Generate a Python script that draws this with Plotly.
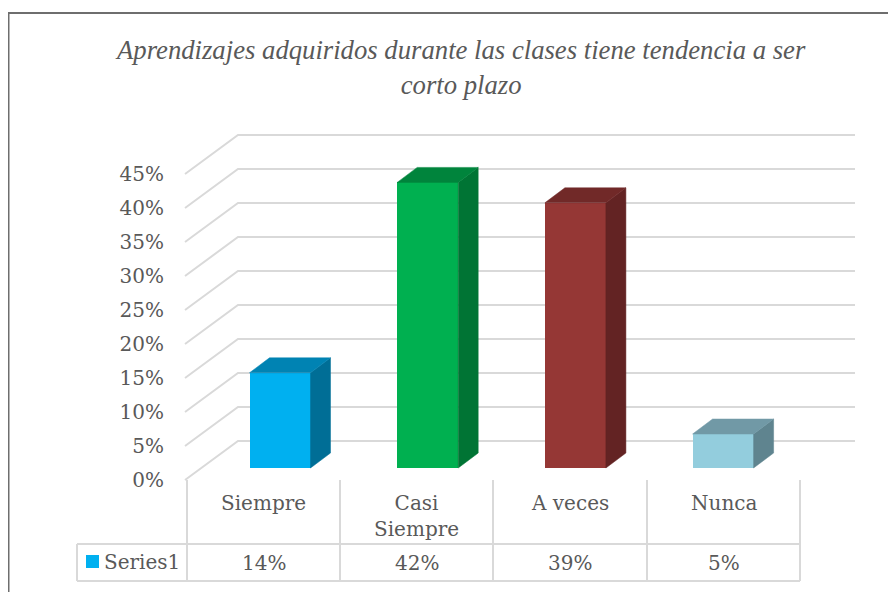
import plotly.graph_objects as go

# ---------------- data ----------------
categories = ["Siempre", "Casi Siempre", "A veces", "Nunca"]
category_labels = ["Siempre", "Casi<br>Siempre", "A veces", "Nunca"]
values = [14, 42, 39, 5]
value_labels = ["14%", "42%", "39%", "5%"]
tick_values = [0, 5, 10, 15, 20, 25, 30, 35, 40, 45]
series_name = "Series1"
title_text = "<i>Aprendizajes adquiridos durante las clases tiene tendencia a ser<br>corto plazo</i>"

front_colors = ["#00B0F0", "#00B050", "#953735", "#93CDDD"]
top_colors = ["#0083B3", "#00843C", "#712928", "#7199A6"]
side_colors = ["#006E96", "#007434", "#632323", "#5F848F"]

# ---------------- geometry (layout, screen pixels) ----------------
OFF = 8                 # page body margin
FW, FH = 888, 584       # figure size so page fits the 896x592 window
X0_PX = 280.0           # screen pixel of first category centre on bar plane
SX = 147.7              # pixels per category step
Y0_PX = 468.0           # screen pixel of 0 % on bar plane
SY = 6.8                # pixels per percentage point

xmin = (OFF - X0_PX) / SX
xmax = (OFF + FW - X0_PX) / SX
ymax = (Y0_PX - OFF) / SY
ymin = (Y0_PX - OFF - FH) / SY


def px_x(p):
    return (p - X0_PX) / SX


def px_y(p):
    return (Y0_PX - p) / SY


def paper_x(p):
    return (p - OFF) / FW


def paper_y(p):
    return 1 - (p - OFF) / FH


BAR_W = 61 / SX
BAR_DX, BAR_DY = 20 / SX, 15 / SY       # depth of each bar
BACK_DY = 27 / SY                       # back wall offset
FRONT_DY = -12 / SY                     # front plane offset
X_FRONT_LEFT = px_x(185)
X_BACK_LEFT = px_x(238)
X_BACK_RIGHT = px_x(855)

GRID = "#D9D9D9"
TXT = "#595959"
FONT = "DejaVu Serif"

fig = go.Figure()

# front faces
fig.add_trace(go.Bar(
    x=list(range(len(categories))), y=values, base=0, width=BAR_W,
    marker=dict(color=front_colors, line=dict(width=0)),
    hoverinfo="skip", showlegend=False, yaxis="y",
))

# side and top faces
for i, v in enumerate(values):
    xl, xr = i - BAR_W / 2, i + BAR_W / 2
    fig.add_trace(go.Scatter(
        x=[xr, xr + BAR_DX, xr + BAR_DX, xr, xr],
        y=[0, BAR_DY, v + BAR_DY, v, 0],
        fill="toself", fillcolor=side_colors[i], mode="lines",
        line=dict(color=side_colors[i], width=0.5),
        hoverinfo="skip", showlegend=False))
    fig.add_trace(go.Scatter(
        x=[xl, xl + BAR_DX, xr + BAR_DX, xr, xl],
        y=[v, v + BAR_DY, v + BAR_DY, v, v],
        fill="toself", fillcolor=top_colors[i], mode="lines",
        line=dict(color=top_colors[i], width=0.5),
        hoverinfo="skip", showlegend=False))

shapes = []
# gridlines on side wall + back wall
for t in tick_values:
    path = (f"M {X_FRONT_LEFT},{t + FRONT_DY} L {X_BACK_LEFT},{t + BACK_DY} "
            f"L {X_BACK_RIGHT},{t + BACK_DY}")
    shapes.append(dict(type="path", path=path, xref="x", yref="y", layer="below",
                       line=dict(color=GRID, width=2)))

# data table lines
col_bounds_px = [187, 340, 493, 647, 800]
table_left_px = 77
row_top_px, row_bot_px, cat_top_px = 544, 581, 480
for cb in col_bounds_px:
    shapes.append(dict(type="line", xref="x", yref="y",
                       x0=px_x(cb), x1=px_x(cb), y0=px_y(cat_top_px), y1=px_y(row_bot_px),
                       line=dict(color=GRID, width=2)))
for ry in (row_top_px, row_bot_px):
    shapes.append(dict(type="line", xref="x", yref="y",
                       x0=px_x(table_left_px), x1=px_x(col_bounds_px[-1]), y0=px_y(ry), y1=px_y(ry),
                       line=dict(color=GRID, width=2)))
shapes.append(dict(type="line", xref="x", yref="y",
                   x0=px_x(table_left_px), x1=px_x(table_left_px), y0=px_y(row_top_px), y1=px_y(row_bot_px),
                   line=dict(color=GRID, width=2)))
# legend key
shapes.append(dict(type="rect", xref="x", yref="y",
                   x0=px_x(86), x1=px_x(99), y0=px_y(555), y1=px_y(568),
                   fillcolor=front_colors[0], line=dict(width=0)))
# outer chart border
shapes.append(dict(type="rect", xref="paper", yref="paper",
                   x0=paper_x(8.5), x1=1.05, y0=-0.05, y1=paper_y(13),
                   line=dict(color="#6E6E6E", width=2), fillcolor="rgba(0,0,0,0)"))

annotations = []
col_centers = [(col_bounds_px[k] + col_bounds_px[k + 1]) / 2 for k in range(len(categories))]
for k, lab in enumerate(category_labels):
    annotations.append(dict(x=px_x(col_centers[k]), y=px_y(489), xref="x", yref="y",
                            text=lab, showarrow=False, xanchor="center", yanchor="top",
                            font=dict(family=FONT, size=20, color=TXT)))
    annotations.append(dict(x=px_x(col_centers[k]), y=px_y(563), xref="x", yref="y",
                            text=value_labels[k], showarrow=False, xanchor="center", yanchor="middle",
                            font=dict(family=FONT, size=20, color=TXT)))
annotations.append(dict(x=px_x(102), y=px_y(562), xref="x", yref="y",
                        text=series_name, showarrow=False, xanchor="left", yanchor="middle",
                        font=dict(family=FONT, size=20, color=TXT)))
annotations.append(dict(x=paper_x(460), y=paper_y(67), xref="paper", yref="paper",
                        text=title_text, showarrow=False, xanchor="center", yanchor="middle",
                        font=dict(family="Liberation Serif, Times New Roman, serif", size=26.7, color=TXT)))

fig.update_layout(
    width=FW, height=FH, margin=dict(l=0, r=0, t=0, b=0),
    paper_bgcolor="white", plot_bgcolor="white",
    xaxis=dict(domain=[0, 1], range=[xmin, xmax], visible=False, fixedrange=True),
    yaxis=dict(domain=[0, 1], range=[ymin, ymax], visible=False, fixedrange=True),
    yaxis2=dict(overlaying="y", anchor="free", position=paper_x(164), side="left",
                range=[ymin - FRONT_DY, ymax - FRONT_DY],
                tickvals=tick_values, ticktext=[f"{t}%" for t in tick_values],
                showgrid=False, zeroline=False, showline=False, ticks="",
                tickfont=dict(family=FONT, size=20, color=TXT), fixedrange=True),
    shapes=shapes, annotations=annotations, bargap=0,
)
# invisible trace to activate yaxis2
fig.add_trace(go.Scatter(x=[0], y=[0], yaxis="y2", mode="markers",
                         marker=dict(opacity=0), hoverinfo="skip", showlegend=False))

fig.write_html("out.html")
